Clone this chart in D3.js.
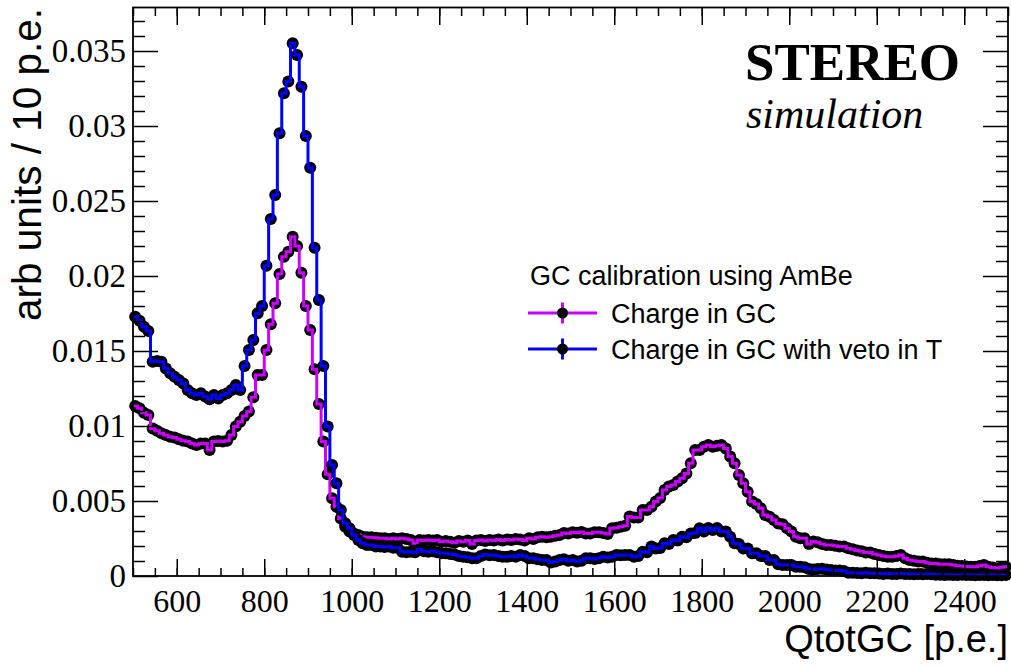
<!DOCTYPE html>
<html><head><meta charset="utf-8">
<script src="https://cdn.jsdelivr.net/npm/d3@7"></script>
<style>body{margin:0;background:#fff}</style>
</head><body>
<svg id="c" width="1011" height="668"></svg>
<script>
// ---- data ----
const binStart = 500, binWidth = 10;
const chargeGC = [
0.01133,0.01118,0.01089,0.01073,0.00984,0.00969,0.00951,0.0094,0.00929,0.00924,
0.00911,0.00902,0.00896,0.00884,0.00873,0.00884,0.00884,0.0084,0.00896,0.009,
0.00896,0.00902,0.0094,0.00996,0.01029,0.01067,0.01096,0.01191,0.0134,0.0134,
0.01507,0.01678,0.01818,0.02013,0.02129,0.02162,0.02262,0.022,0.02022,0.018,
0.0164,0.01378,0.01147,0.00896,0.00678,0.00518,0.00462,0.00384,0.00329,0.00296,
0.00284,0.00273,0.00262,0.00258,0.00258,0.00255,0.00251,0.00251,0.00247,0.00251,
0.00247,0.00251,0.00247,0.0024,0.00218,0.0024,0.00236,0.0024,0.00236,0.0024,
0.00229,0.00233,0.00229,0.00222,0.00233,0.00229,0.00236,0.00213,0.00236,0.0024,
0.00233,0.0024,0.00236,0.00244,0.00236,0.00244,0.0024,0.00247,0.00244,0.00236,
0.00251,0.00247,0.00258,0.00262,0.00258,0.00262,0.00269,0.00273,0.00287,0.00284,
0.00291,0.00289,0.00293,0.00284,0.00284,0.00291,0.00291,0.00287,0.0028,0.00318,
0.00322,0.00329,0.00335,0.00396,0.0039,0.0039,0.0044,0.0044,0.00462,0.00496,
0.0052,0.00573,0.00596,0.00607,0.0063,0.00651,0.00684,0.00751,0.0084,0.0084,
0.00862,0.00873,0.00862,0.00868,0.00873,0.0085,0.00796,0.00751,0.00673,0.00618,
0.00562,0.00496,0.0048,0.00451,0.00407,0.00395,0.00373,0.0035,0.00345,0.00318,
0.00296,0.00262,0.00251,0.00251,0.00213,0.0023,0.00225,0.00213,0.00207,0.00207,
0.00202,0.00196,0.00196,0.00185,0.00178,0.0017,0.00165,0.00156,0.00156,0.00147,
0.0014,0.00133,0.00129,0.00129,0.00133,0.0014,0.00118,0.00107,0.00102,0.00096,
0.00096,0.00089,0.00084,0.00084,0.00078,0.00078,0.00078,0.00073,0.00069,0.00067,
0.00064,0.00062,0.00062,0.00067,0.00073,0.00062,0.00056,0.0005,0.00058,0.00062];
const chargeGCveto = [
0.01729,0.01702,0.01662,0.01633,0.01429,0.01433,0.01429,0.01384,0.01351,0.01329,
0.01307,0.01284,0.0124,0.01218,0.01207,0.01218,0.01196,0.01178,0.01207,0.01184,
0.01207,0.01218,0.0124,0.01273,0.0124,0.014,0.01507,0.01573,0.01751,0.018,
0.02069,0.0238,0.0254,0.02951,0.03218,0.03296,0.03551,0.03473,0.03262,0.02933,
0.02722,0.02189,0.0184,0.014,0.00996,0.0074,0.00618,0.0044,0.00351,0.00318,
0.00273,0.0024,0.00218,0.00207,0.00207,0.00196,0.00196,0.00193,0.00196,0.00189,
0.00189,0.00162,0.00158,0.00162,0.00158,0.00176,0.00165,0.00162,0.00165,0.00158,
0.00151,0.00151,0.00147,0.00144,0.00133,0.00129,0.00125,0.00118,0.00118,0.00133,
0.00144,0.00138,0.0014,0.00133,0.00129,0.00129,0.00133,0.00129,0.0014,0.00133,
0.00118,0.00118,0.00111,0.00107,0.00107,0.0009,0.00096,0.00107,0.00111,0.00102,
0.00107,0.00096,0.00102,0.00118,0.00118,0.00113,0.00118,0.00129,0.00124,0.00129,
0.0014,0.00138,0.0014,0.0014,0.00129,0.00133,0.00162,0.00158,0.00196,0.00184,
0.00187,0.00218,0.00213,0.0024,0.00236,0.00262,0.00258,0.00284,0.00287,0.00318,
0.00296,0.0032,0.00307,0.0032,0.00296,0.00296,0.00262,0.00218,0.00213,0.00184,
0.00184,0.00151,0.00151,0.00133,0.00133,0.00107,0.00107,0.00078,0.00073,0.00073,
0.00073,0.00062,0.00062,0.00058,0.00047,0.00044,0.00047,0.00049,0.00044,0.0004,
0.00036,0.00036,0.00033,0.00022,0.00022,0.0002,0.00018,0.00022,0.00018,0.00018,
0.00016,0.00013,0.00016,0.00013,0.00013,0.00016,0.00013,0.00013,0.00011,0.00013,
0.00011,0.00013,0.00011,0.00009,0.00009,0.00007,0.00009,0.00007,0.00007,0.00009,
0.00007,0.00007,0.00005,0.00007,0.00007,0.00005,0.00007,0.00005,0.00005,0.00007];
const xMajorTicks = [600,800,1000,1200,1400,1600,1800,2000,2200,2400];
const xMinorTicks = d3.range(500, 2501, 50);
const yMajorTicks = [0,0.005,0.01,0.015,0.02,0.025,0.03,0.035];
const yTickLabels = ["0","0.005","0.01","0.015","0.02","0.025","0.03","0.035"];
const yMinorTicks = [0.001,0.002,0.003,0.004,0.006,0.007,0.008,0.009,0.011,0.012,0.013,0.014,0.016,0.017,0.018,0.019,0.021,0.022,0.023,0.024,0.026,0.027,0.028,0.029,0.031,0.032,0.033,0.034,0.036,0.037];
const seriesNames = ["Charge in GC","Charge in GC with veto in T"];
const seriesColors = ["#cc00ff","#0000ff"];

// ---- drawing ----
const svg = d3.select("#c");
svg.append("rect").attr("width",1011).attr("height",668).attr("fill","#fff");
const L=133, R=1008, T=7.5, B=576;
const x = d3.scaleLinear().domain([500,2500]).range([L,R]);
const y = d3.scaleLinear().domain([0,0.0379]).range([B,T]);

function drawSeries(vals, color){
  const g = svg.append("g");
  const centers = vals.map((v,i)=>({c:binStart+binWidth*(i+0.5), v}));
  g.selectAll("circle").data(centers).enter().append("circle")
    .attr("cx",d=>x(d.c)).attr("cy",d=>y(d.v)).attr("r",6).attr("fill","#000");
  const pts = vals.map((v,i)=>[binStart+binWidth*i, v]);
  pts.push([binStart+binWidth*vals.length, vals[vals.length-1]]);
  const line = d3.line().x(d=>x(d[0])).y(d=>y(d[1])).curve(d3.curveStepAfter);
  g.append("path").attr("d",line(pts)).attr("fill","none").attr("stroke",color)
    .attr("stroke-width",3).attr("stroke-linejoin","miter");
}
drawSeries(chargeGC, seriesColors[0]);
drawSeries(chargeGCveto, seriesColors[1]);

// axes
const tickStyle = g => { g.select(".domain").remove(); g.selectAll("line").attr("stroke","#000").attr("stroke-width",1.5); };
svg.append("g").attr("transform",`translate(0,${B})`)
  .call(d3.axisBottom(x).tickValues(xMinorTicks).tickSizeInner(-8).tickSizeOuter(0).tickFormat(""))
  .call(tickStyle);
svg.append("g").attr("transform",`translate(0,${B})`)
  .call(d3.axisBottom(x).tickValues(xMajorTicks).tickSizeInner(-17).tickSizeOuter(0).tickPadding(13).tickFormat(d3.format("d")))
  .call(tickStyle)
  .selectAll("text").attr("font-family","Liberation Serif").attr("font-size",32).attr("fill","#000");
svg.append("g").attr("transform",`translate(0,${T})`)
  .call(d3.axisTop(x).tickValues(xMinorTicks).tickSizeInner(-8.5).tickSizeOuter(0).tickFormat(""))
  .call(tickStyle);
svg.append("g").attr("transform",`translate(0,${T})`)
  .call(d3.axisTop(x).tickValues(xMajorTicks).tickSizeInner(-17.5).tickSizeOuter(0).tickFormat(""))
  .call(tickStyle);
svg.append("g").attr("transform",`translate(${L},0)`)
  .call(d3.axisLeft(y).tickValues(yMinorTicks).tickSizeInner(-12).tickSizeOuter(0).tickFormat(""))
  .call(tickStyle);
svg.append("g").attr("transform",`translate(${L},0)`)
  .call(d3.axisLeft(y).tickValues(yMajorTicks).tickSizeInner(-25).tickSizeOuter(0).tickPadding(7)
    .tickFormat((d,i)=>yTickLabels[i]))
  .call(tickStyle)
  .selectAll("text").attr("font-family","Liberation Serif").attr("font-size",33).attr("fill","#000");
svg.append("g").attr("transform",`translate(${R},0)`)
  .call(d3.axisRight(y).tickValues(yMinorTicks).tickSizeInner(-12).tickSizeOuter(0).tickFormat(""))
  .call(tickStyle);
svg.append("g").attr("transform",`translate(${R},0)`)
  .call(d3.axisRight(y).tickValues(yMajorTicks).tickSizeInner(-25).tickSizeOuter(0).tickFormat(""))
  .call(tickStyle);
svg.append("rect").attr("x",L).attr("y",T).attr("width",R-L).attr("height",B-T)
  .attr("fill","none").attr("stroke","#000").attr("stroke-width",1.8);

// titles
svg.append("text").attr("x",R).attr("y",652).attr("text-anchor","end")
  .attr("font-family","Liberation Sans").attr("font-size",38).text("QtotGC [p.e.]");
svg.append("text").attr("transform","translate(41,8) rotate(-90)").attr("text-anchor","end")
  .attr("font-family","Liberation Sans").attr("font-size",40.5).text("arb units / 10 p.e.");
svg.append("text").attr("x",745).attr("y",80).attr("font-family","Liberation Serif")
  .attr("font-weight","bold").attr("font-size",53).text("STEREO");
svg.append("text").attr("x",746).attr("y",128).attr("font-family","Liberation Serif")
  .attr("font-style","italic").attr("font-size",42).text("simulation");

// legend
const lg = svg.append("g").attr("font-family","Liberation Sans").attr("font-size",27);
lg.append("text").attr("x",530).attr("y",285).text("GC calibration using AmBe");
[313,349].forEach((cy,i)=>{
  lg.append("line").attr("x1",528).attr("x2",597).attr("y1",cy).attr("y2",cy)
    .attr("stroke",seriesColors[i]).attr("stroke-width",3);
  lg.append("line").attr("x1",562.5).attr("x2",562.5).attr("y1",cy-10.5).attr("y2",cy+10.5)
    .attr("stroke",seriesColors[i]).attr("stroke-width",3);
  lg.append("circle").attr("cx",562.5).attr("cy",cy).attr("r",5.5).attr("fill","#000");
  lg.append("text").attr("x",611).attr("y",cy+9.5).text(seriesNames[i]);
});
</script>
</body></html>
